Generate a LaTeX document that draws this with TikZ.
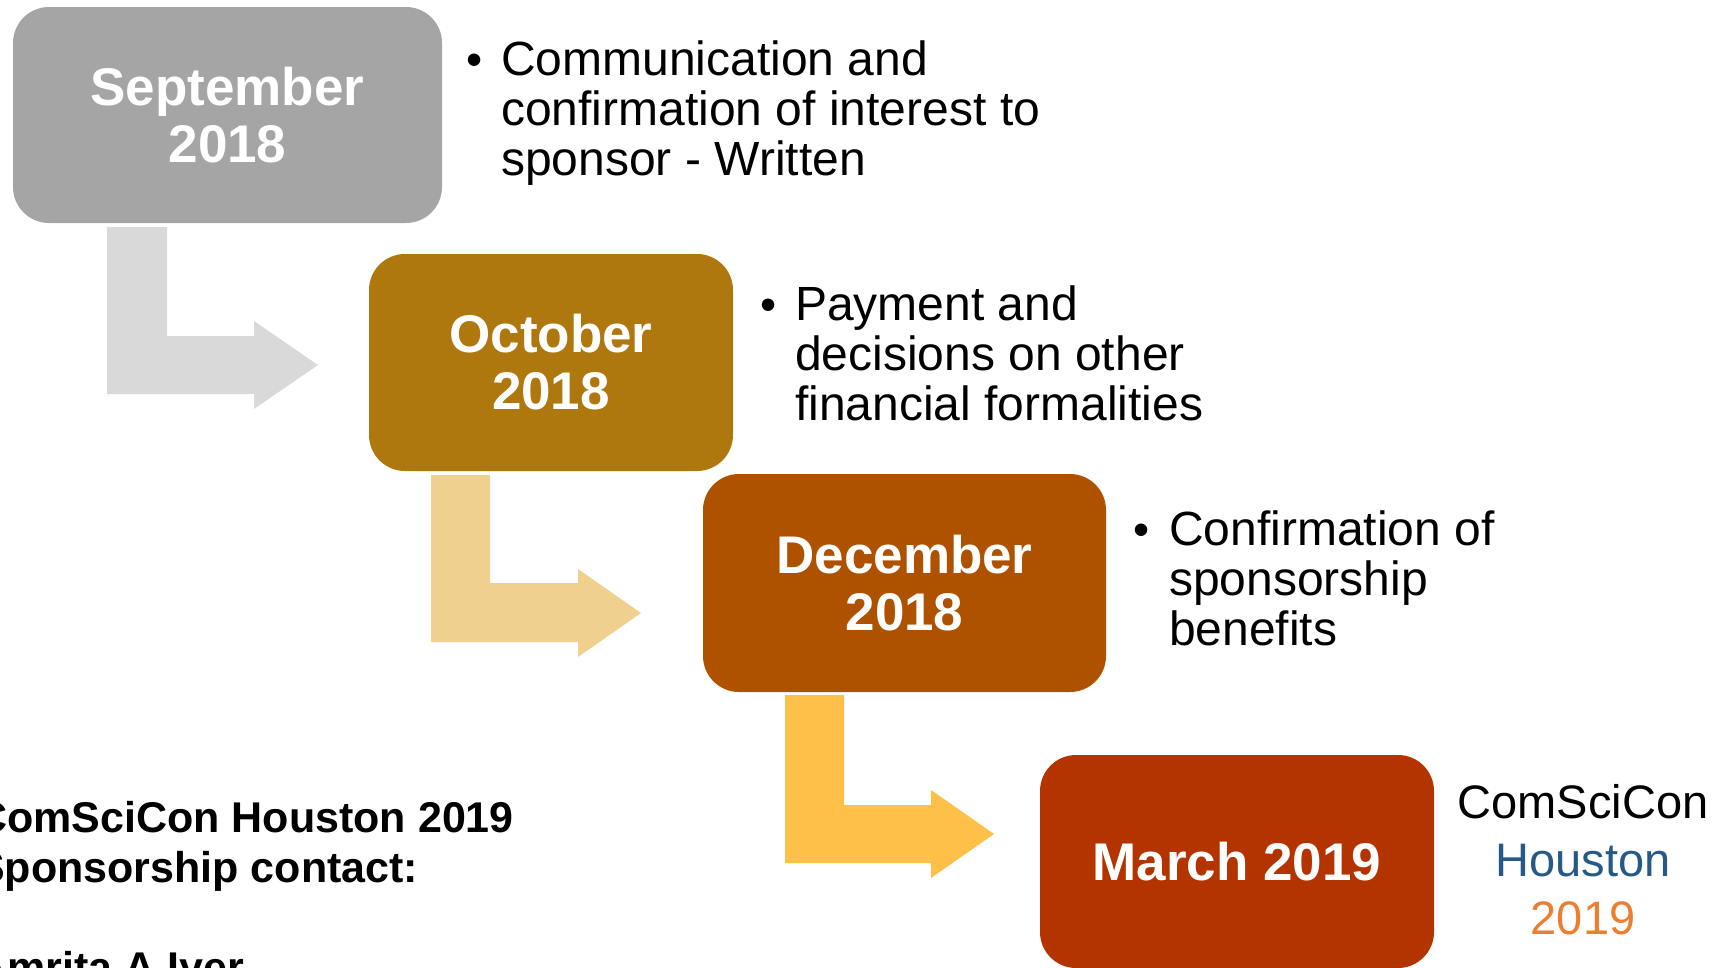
\documentclass[tikz,border=0pt]{standalone}
\usepackage{fontspec}
\setmainfont{Liberation Sans}
\definecolor{boxA}{HTML}{A5A5A5}
\definecolor{boxB}{HTML}{AE780E}
\definecolor{boxC}{HTML}{AF5200}
\definecolor{boxD}{HTML}{B43400}
\definecolor{arrA}{HTML}{D9D9D9}
\definecolor{arrB}{HTML}{EFD08F}
\definecolor{arrC}{HTML}{FFC04A}
\definecolor{hblue}{HTML}{255A88}
\definecolor{horange}{HTML}{ED7D31}
\begin{document}
\begin{tikzpicture}[x=1pt,y=-1pt,
  datebox/.style={rounded corners=36pt, inner sep=0pt, align=center, text=white,
    font=\fontsize{53}{57}\selectfont\bfseries},
  bodytext/.style={anchor=base west, align=left, inner sep=0pt,
    font=\fontsize{48}{50}\selectfont},
  bul/.style={anchor=base west, inner sep=0pt, font=\fontsize{46}{50}\selectfont}]
\useasboundingbox (0,0) rectangle (1720,967);
\clip (0,0) rectangle (1720,967);

% bent arrows
\fill[arrA] (107,227) -- (167,227) -- (167,336) -- (254,336) -- (254,321) -- (318,365)
  -- (254,409) -- (254,394) -- (107,394) -- cycle;
\fill[arrB] (431,475) -- (490,475) -- (490,583) -- (578,583) -- (578,569) -- (641,613)
  -- (578,657) -- (578,642) -- (431,642) -- cycle;
\fill[arrC] (785,695) -- (844,695) -- (844,805) -- (931,805) -- (931,790) -- (994,834)
  -- (931,878) -- (931,863) -- (785,863) -- cycle;

% date boxes
\node[datebox, fill=boxA, minimum width=429pt, minimum height=216pt] (sep) at (227.5,115) {September\\2018};
\node[datebox, fill=boxB, minimum width=364pt, minimum height=217pt] (oct) at (551,362.5) {October\\2018};
\node[datebox, fill=boxC, minimum width=403pt, minimum height=218pt] (dec) at (904.5,583) {December\\2018};
\node[datebox, fill=boxD, minimum width=394pt, minimum height=213pt] (mar) at (1237,861.5) {March 2019};

% bullet texts (base anchor = last line baseline)
\node[bul] (b1) at (466,75) {•};
\node[bodytext] (t1) at (501,175) {Communication and\\confirmation of interest to\\sponsor - Written};
\node[bul] (b2) at (760,320) {•};
\node[bodytext] (t2) at (795,420) {Payment and\\decisions on other\\financial formalities};
\node[bul] (b3) at (1133,545) {•};
\node[bodytext] (t3) at (1169,645) {Confirmation of\\sponsorship\\benefits};

% logo text
\node[anchor=base, align=center, inner sep=0pt, font=\fontsize{47}{58}\selectfont] (logo) at (1583,934)
  {ComSciCon\\\textcolor{hblue}{Houston}\\\textcolor{horange}{2019}};

% contact
\node[anchor=base west, align=left, inner sep=0pt, font=\fontsize{43}{50}\selectfont\bfseries] (contact) at (-24,982)
  {ComSciCon Houston 2019\\Sponsorship contact:\\[50pt]Amrita A Iyer};
\end{tikzpicture}
\end{document}
